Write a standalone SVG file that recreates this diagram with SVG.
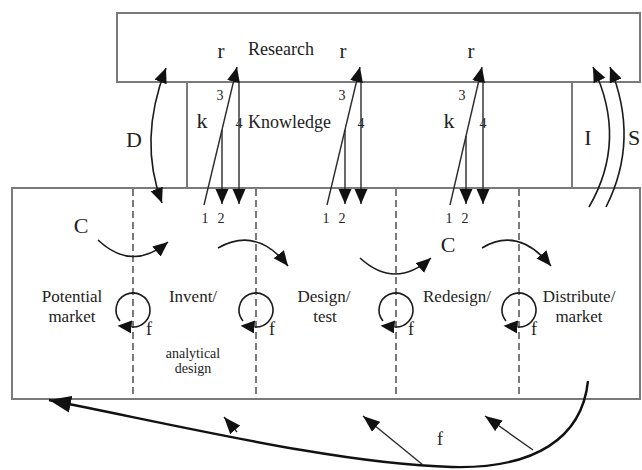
<svg xmlns="http://www.w3.org/2000/svg" width="642" height="470" viewBox="0 0 642 470" font-family="'Liberation Serif','Times New Roman',serif">
<defs>
<style>
.box{fill:none;stroke:#7a7a7a;stroke-width:2}
.dash{fill:none;stroke:#7a7a7a;stroke-width:2;stroke-dasharray:7 4}
.ln{fill:none;stroke:#2a2a2a;stroke-width:1.4}
.crv{fill:none;stroke:#1a1a1a;stroke-width:1.6}
.big{fill:none;stroke:#111;stroke-width:2.4}
text{font-family:"Liberation Serif","Times New Roman",serif;fill:#222}
.lbl{font-size:17px;text-anchor:middle}
.sm{font-size:14px;text-anchor:middle}
.num{font-size:14px;text-anchor:middle}
.cap{font-size:22px;text-anchor:middle}
.ff{font-size:18px}
</style>
<marker id="a" markerUnits="userSpaceOnUse" markerWidth="16" markerHeight="14" refX="15" refY="6.5" orient="auto-start-reverse" viewBox="0 0 16 14"><path d="M0,0 L15,6.5 L0,13 z" fill="#111"/></marker>
<marker id="ab" markerUnits="userSpaceOnUse" markerWidth="16" markerHeight="14" refX="0" refY="6.5" orient="auto" viewBox="0 0 16 14"><path d="M0,0 L14,6.5 L0,13 z" fill="#111"/></marker>
<marker id="aL" markerUnits="userSpaceOnUse" markerWidth="24" markerHeight="18" refX="22" refY="8.5" orient="auto" viewBox="0 0 24 18"><path d="M0,0 L22,8.5 L0,17 z" fill="#111"/></marker>
<marker id="aS" markerUnits="userSpaceOnUse" markerWidth="18" markerHeight="14" refX="17" refY="6.5" orient="auto" viewBox="0 0 18 14"><path d="M0,0 L17,6.5 L0,13 z" fill="#111"/></marker>
</defs>

<g id="research">
<rect class="box" x="117" y="13" width="523" height="69"/>
<text x="248" y="55" style="font-size:18px">Research</text>
<text class="cap" x="221" y="58" style="font-size:21px">r</text>
<text class="cap" x="343" y="58" style="font-size:21px">r</text>
<text class="cap" x="471" y="58" style="font-size:21px">r</text>
</g>

<g id="knowledge">
<line class="box" x1="187" y1="82" x2="187" y2="188"/>
<line class="box" x1="572" y1="82" x2="572" y2="188"/>
<text x="248" y="128" style="font-size:18px">Knowledge</text>
<text class="cap" x="202" y="128">k</text>
<text class="cap" x="449" y="128">k</text>
<text class="num" x="220" y="100">3</text>
<text class="num" x="342" y="100">3</text>
<text class="num" x="462" y="100">3</text>
<text class="num" x="239" y="128">4</text>
<text class="num" x="361" y="128">4</text>
<text class="num" x="483" y="128">4</text>
<text class="cap" x="134" y="147">D</text>
<text class="cap" x="588" y="145">I</text>
<text class="cap" x="634" y="145">S</text>
</g>

<g id="chain">
<rect class="box" x="12" y="188" width="628" height="211"/>
<line class="dash" x1="133" y1="189" x2="133" y2="398"/>
<line class="dash" x1="256" y1="189" x2="256" y2="398"/>
<line class="dash" x1="396" y1="189" x2="396" y2="398"/>
<line class="dash" x1="519" y1="189" x2="519" y2="398"/>
</g>

<g id="potential-market">
<text class="lbl" x="72" y="302">Potential</text>
<text class="lbl" x="72" y="322">market</text>
</g>
<g id="invent">
<text class="lbl" x="193" y="302">Invent/</text>
<text class="sm" x="193" y="358">analytical</text>
<text class="sm" x="193" y="373">design</text>
</g>
<g id="design-test">
<text class="lbl" x="324" y="302">Design/</text>
<text class="lbl" x="325" y="322">test</text>
</g>
<g id="redesign">
<text class="lbl" x="457" y="302">Redesign/</text>
</g>
<g id="distribute">
<text class="lbl" x="579" y="302">Distribute/</text>
<text class="lbl" x="579" y="322">market</text>
</g>

<g id="labels">
<text class="num" x="205" y="223">1</text>
<text class="num" x="221" y="223">2</text>
<text class="num" x="326" y="223">1</text>
<text class="num" x="342" y="223">2</text>
<text class="num" x="449" y="223">1</text>
<text class="num" x="465" y="223">2</text>
<text class="cap" x="81" y="233">C</text>
<text class="cap" x="448" y="252">C</text>
<text class="ff" x="146" y="335">f</text>
<text class="ff" x="269" y="335">f</text>
<text class="ff" x="408" y="335">f</text>
<text class="ff" x="531" y="335">f</text>
<text class="ff" x="437" y="445">f</text>
</g>

<g id="connectors">
<path class="crv" d="M166 68 Q 138 140 162 203" marker-start="url(#a)" marker-end="url(#a)"/>
<path class="crv" d="M589 207 Q 628 140 593 67" marker-end="url(#a)"/>
<path class="crv" d="M606 207 Q 640 140 610 67" marker-end="url(#a)"/>
<path class="ln" d="M204 205 L237 67" marker-end="url(#a)"/>
<path class="ln" d="M222 130 L222 204" marker-end="url(#a)"/>
<path class="ln" d="M239 83 L239 204" marker-end="url(#a)"/>
<path class="ln" d="M327 205 L360 67" marker-end="url(#a)"/>
<path class="ln" d="M345 130 L345 204" marker-end="url(#a)"/>
<path class="ln" d="M361 83 L361 204" marker-end="url(#a)"/>
<path class="ln" d="M450 205 L482 67" marker-end="url(#a)"/>
<path class="ln" d="M466 136 L466 204" marker-end="url(#a)"/>
<path class="ln" d="M483 83 L483 204" marker-end="url(#a)"/>
<path class="crv" d="M98 240 Q 132 272 168 242" marker-end="url(#a)"/>
<path class="crv" d="M218 248 Q 257 226 288 266" marker-end="url(#a)"/>
<path class="crv" d="M360 258 Q 395 290 431 258" marker-end="url(#a)"/>
<path class="crv" d="M482 248 Q 518 226 551 266" marker-end="url(#a)"/>
<path class="crv" d="M119.98 320.93 A17 17 0 1 1 131.52 326.94" marker-end="url(#ab)"/>
<path class="crv" d="M242.98 320.93 A17 17 0 1 1 254.52 326.94" marker-end="url(#ab)"/>
<path class="crv" d="M382.98 320.93 A17 17 0 1 1 394.52 326.94" marker-end="url(#ab)"/>
<path class="crv" d="M505.98 320.93 A17 17 0 1 1 517.52 326.94" marker-end="url(#ab)"/>
<path class="big" d="M588 381 C 582 438 535 469 452 467 C 340 464 190 428 49 400" marker-end="url(#aL)"/>
<path class="ln" d="M237 432 L224 417" marker-end="url(#aS)"/>
<path class="ln" d="M423 465 L363 416" marker-end="url(#aS)"/>
<path class="ln" d="M533 450 L485 416" marker-end="url(#aS)"/>
</g>
</svg>
